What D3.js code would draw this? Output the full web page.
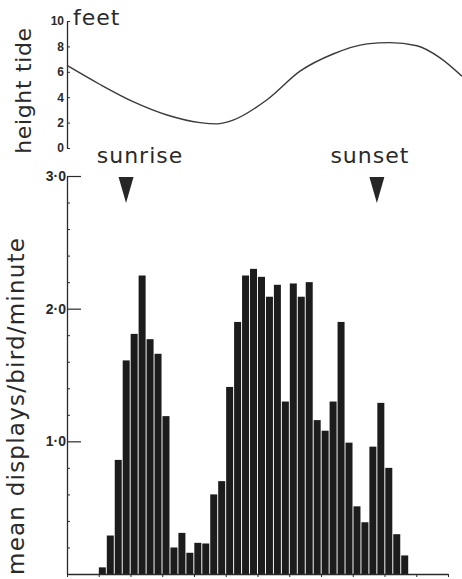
<!DOCTYPE html>
<html>
<head>
<meta charset="utf-8">
<script src="https://cdn.jsdelivr.net/npm/d3@7"></script>
<style>
  body { margin: 0; background: #fff; }
  svg { display: block; font-family: "DejaVu Sans", sans-serif; }
  .tick text { font-weight: bold; fill: #2a2a2a; }
</style>
</head>
<body>
<div id="chart"></div>
<script>
// tide height (feet) against hours since start of record
const tideHours = [0, 1.04, 2.08, 3.15, 4.19, 4.72, 5.23, 6.30, 7.34, 8.38, 9.45, 10.17, 11.02, 11.75, 12.44];
const tideFeet  = [6.5, 5.0, 3.65, 2.6, 2.0, 1.9, 2.2, 3.8, 6.05, 7.4, 8.2, 8.3, 8.05, 7.1, 5.65];
const tideTicks = [0, 2, 4, 6, 8, 10];

// mean displays / bird / minute, one bar per quarter hour (48 slots = 12 h)
const displays = [
  0, 0, 0, 0, 0.05, 0.29, 0.86, 1.61, 1.81, 2.25, 1.77, 1.66,
  1.19, 0.20, 0.31, 0.16, 0.235, 0.23, 0.60, 0.70, 1.41, 1.90, 2.25, 2.30,
  2.24, 2.09, 2.18, 1.30, 2.19, 2.09, 2.20, 1.16, 1.08, 1.30, 1.90, 0.99,
  0.51, 0.39, 0.96, 1.29, 0.80, 0.30, 0.14, 0, 0, 0, 0, 0
];
const displayTicks = [1, 2, 3];
const displayMinor = [0.2, 0.4, 0.6, 0.8, 1.2, 1.4, 1.6, 1.8, 2.2, 2.4, 2.6, 2.8];
const hourTicks = [0, 1, 2, 3, 4, 5, 6, 7, 8, 9, 10, 11, 12];

const events = [
  { name: "sunrise", hour: 1.86, labelHour: 2.3 },
  { name: "sunset", hour: 9.76, labelHour: 9.54 }
];

const width = 462, height = 579;
const ink = "#2a2a2a";

const svg = d3.select("#chart").append("svg")
    .attr("width", width)
    .attr("height", height);

const x = d3.scaleLinear().domain([0, 12]).range([67, 448]);
const yTide = d3.scaleLinear().domain([0, 10]).range([148, 21]);
const y = d3.scaleLinear().domain([0, 3]).range([574, 176]);
const band = d3.scaleBand()
    .domain(d3.range(displays.length))
    .range([67, 448])
    .paddingInner(0.12);

// ---- tide panel ----
svg.append("g")
    .attr("transform", `translate(${x(0)},0)`)
    .call(d3.axisLeft(yTide).tickValues(tideTicks).tickSizeInner(-3).tickSizeOuter(0).tickPadding(3))
    .call(g => g.select(".domain").attr("stroke", ink).attr("stroke-width", 1.3))
    .call(g => g.selectAll(".tick line").attr("stroke", ink))
    .call(g => g.selectAll(".tick text").attr("font-size", 12).attr("fill", ink));

svg.append("path")
    .datum(tideHours.map((h, i) => [h, tideFeet[i]]))
    .attr("fill", "none")
    .attr("stroke", "#3a3a3a")
    .attr("stroke-width", 1.4)
    .attr("d", d3.line()
        .x(d => x(d[0]))
        .y(d => yTide(d[1]))
        .curve(d3.curveMonotoneX));

svg.append("text")
    .attr("x", 73).attr("y", 25)
    .attr("font-size", 22)
    .attr("letter-spacing", 1)
    .attr("fill", ink)
    .text("feet");

svg.append("text")
    .attr("transform", `translate(31,${yTide(4.5)}) rotate(-90)`)
    .attr("text-anchor", "middle")
    .attr("font-size", 22)
    .attr("textLength", 126)
    .attr("lengthAdjust", "spacing")
    .attr("fill", ink)
    .text("height tide");

// ---- sunrise / sunset ----
svg.selectAll(".event-label")
  .data(events)
  .enter().append("text")
    .attr("class", "event-label")
    .attr("x", d => x(d.labelHour))
    .attr("y", 163)
    .attr("text-anchor", "middle")
    .attr("font-size", 22)
    .attr("letter-spacing", 1)
    .attr("fill", ink)
    .text(d => d.name);

svg.selectAll(".event-mark")
  .data(events)
  .enter().append("path")
    .attr("class", "event-mark")
    .attr("fill", "#262626")
    .attr("d", d => {
        const cx = x(d.hour);
        return `M${cx - 7.5},177 L${cx + 7.5},177 L${cx},203 Z`;
    });

// ---- displays panel ----
svg.append("g")
  .selectAll("rect")
  .data(displays)
  .enter().append("rect")
    .attr("x", (d, i) => band(i))
    .attr("y", d => y(d))
    .attr("width", band.bandwidth())
    .attr("height", d => y(0) - y(d))
    .attr("fill", "#1c1c1c");

svg.append("g")
    .attr("transform", `translate(${x(0)},0)`)
    .call(d3.axisLeft(y).tickValues(displayMinor).tickSizeInner(-3).tickSizeOuter(0).tickFormat(""))
    .call(g => g.select(".domain").attr("stroke", ink).attr("stroke-width", 1.3))
    .call(g => g.selectAll(".tick line").attr("stroke", ink));

svg.append("g")
    .attr("transform", `translate(${x(0)},0)`)
    .call(d3.axisLeft(y).tickValues(displayTicks).tickSizeInner(-14).tickSizeOuter(0).tickPadding(1)
        .tickFormat(d => d.toFixed(1).replace(".", "·")))
    .call(g => g.select(".domain").remove())
    .call(g => g.selectAll(".tick line").attr("stroke", ink).attr("stroke-width", 1.2))
    .call(g => g.selectAll(".tick text").attr("font-size", 14).attr("fill", ink));

svg.append("g")
    .attr("transform", `translate(0,${y(0)})`)
    .call(d3.axisBottom(x).tickValues(hourTicks).tickSizeInner(3).tickSizeOuter(0).tickFormat(""))
    .call(g => g.select(".domain").attr("stroke", ink).attr("stroke-width", 1.5))
    .call(g => g.selectAll(".tick line").attr("stroke", ink));

svg.append("text")
    .attr("transform", `translate(24,238) rotate(-90)`)
    .attr("text-anchor", "end")
    .attr("font-size", 23)
    .attr("textLength", 337)
    .attr("lengthAdjust", "spacing")
    .attr("fill", ink)
    .text("mean displays/bird/minute");
</script>
</body>
</html>
